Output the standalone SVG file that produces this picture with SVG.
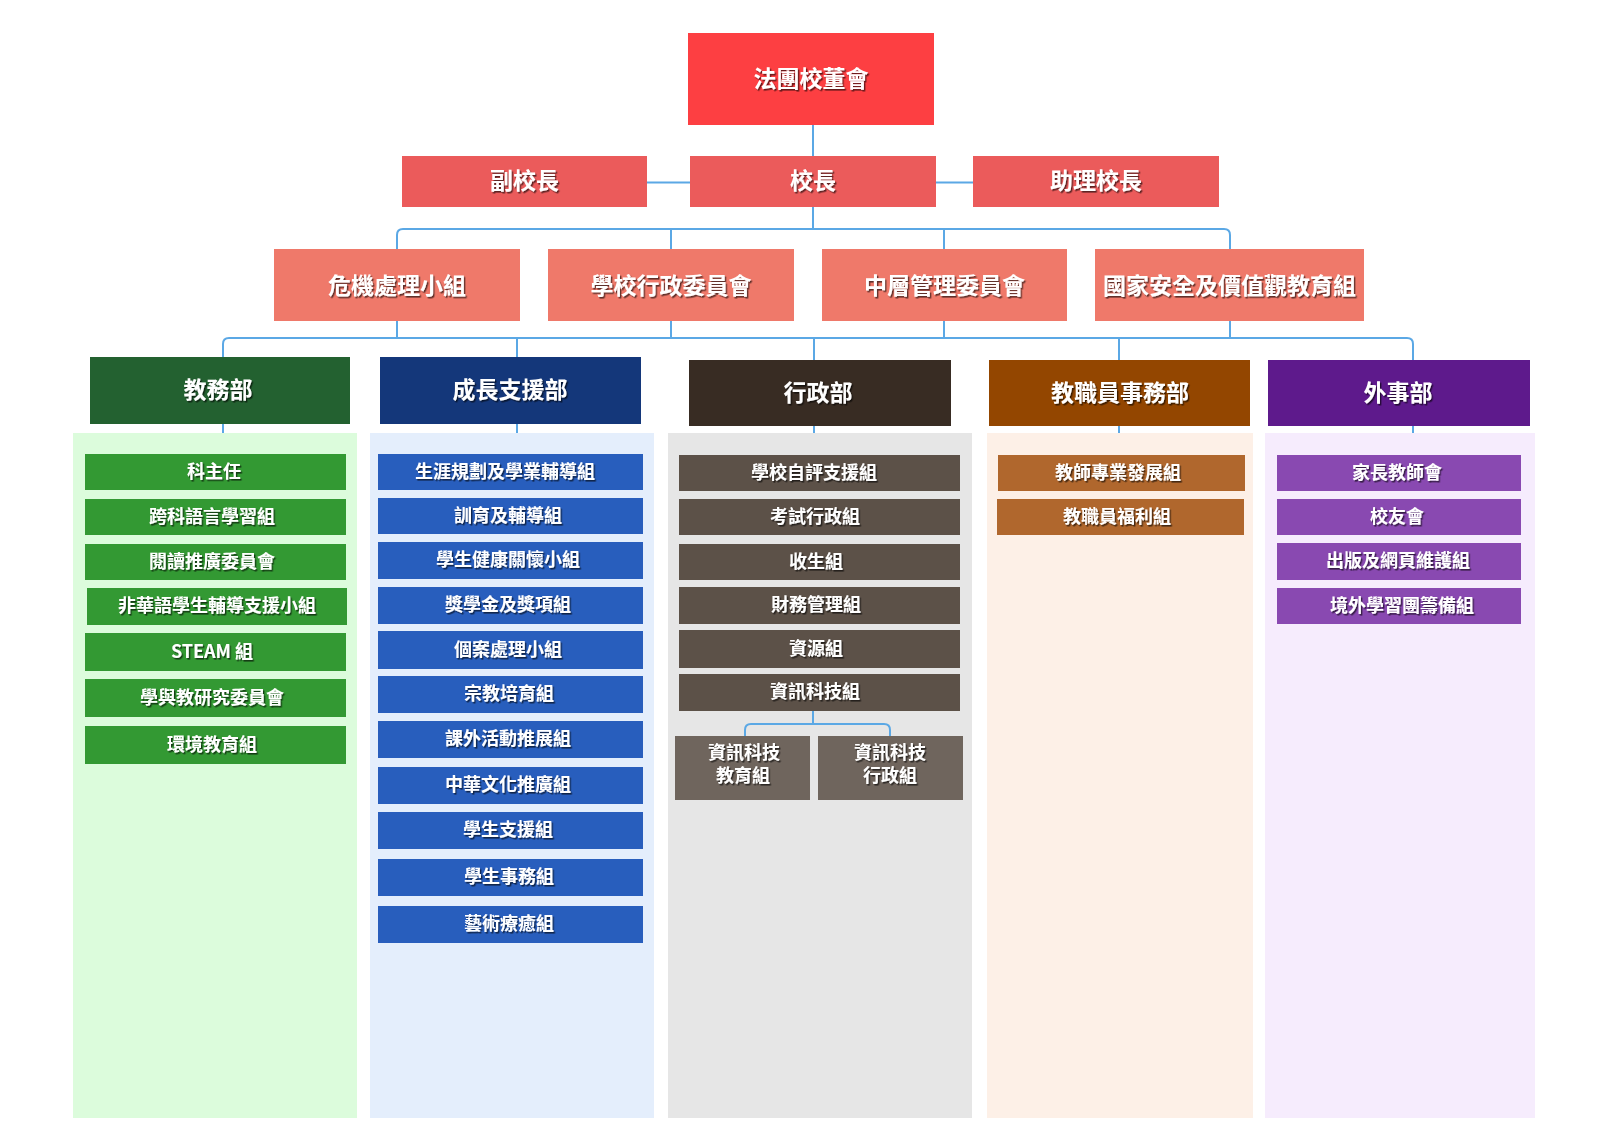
<svg xmlns="http://www.w3.org/2000/svg" width="1600" height="1134" viewBox="0 0 1600 1134">
<defs>
<filter id="sh" x="-10%" y="-30%" width="120%" height="160%">
<feDropShadow dx="1.4" dy="1.6" stdDeviation="0.4" flood-color="#000" flood-opacity="0.6"/>
</filter>
<style>
text{font-family:"Noto Sans CJK TC","Noto Sans CJK SC",sans-serif;font-weight:bold;fill:#fff;text-anchor:middle;filter:url(#sh)}
.big{font-size:23px}
.sm{font-size:18px}
.conn{fill:none;stroke:#5BA8E5;stroke-width:2}
.top{fill:#FD3F42}.l2{fill:#EB5B5B}.l3{fill:#EF796A}
.gh{fill:#236130}.gi{fill:#339933}.gp{fill:#DCFCDC}
.bh{fill:#14377A}.bi{fill:#285EBD}.bp{fill:#E4EEFC}
.kh{fill:#382C23}.ki{fill:#5C5148}.ks{fill:#6F655D}.kp{fill:#E6E6E6}
.oh{fill:#934600}.oi{fill:#B0672D}.op{fill:#FDF0E7}
.ph{fill:#5E1A8C}.pi{fill:#8949B1}.pp{fill:#F6ECFD}
</style>
</defs>
<rect width="1600" height="1134" fill="#fff"/>

<g id="panels">
<rect class="gp" x="73" y="433" width="284" height="685"/>
<rect class="bp" x="370" y="433" width="284" height="685"/>
<rect class="kp" x="668" y="433" width="304" height="685"/>
<rect class="op" x="987" y="433" width="266" height="685"/>
<rect class="pp" x="1265" y="433" width="270" height="685"/>
</g>

<g id="connectors">
<path class="conn" d="M813,125 V156"/>
<path class="conn" d="M647,182.5 H690 M936,182.5 H973"/>
<path class="conn" d="M813,207 V229"/>
<path class="conn" d="M397,249 V235 Q397,229 403,229 H1224 Q1230,229 1230,235 V249 M671,229 V249 M944,229 V249"/>
<path class="conn" d="M397,321 V338 M671,321 V338 M944,321 V338 M1230,321 V338"/>
<path class="conn" d="M223,357 V344 Q223,338 229,338 H1407 Q1413,338 1413,344 V360 M517,338 V357 M814,338 V360 M1119,338 V360"/>
<path class="conn" d="M223,424 V433 M517,424 V433 M814,426 V433 M1119,426 V433 M1413,426 V433"/>
<path class="conn" d="M813,711 V724 M745,736 V730 Q745,724 751,724 H884 Q890,724 890,730 V736"/>
</g>

<g id="board"><rect class="top" x="688" y="33" width="246" height="92"/><text class="big" x="811" y="87">法團校董會</text></g>

<g id="vice"><rect class="l2" x="402" y="156" width="245" height="51"/><text class="big" x="524.5" y="189">副校長</text></g>
<g id="principal"><rect class="l2" x="690" y="156" width="246" height="51"/><text class="big" x="813" y="189">校長</text></g>
<g id="asst"><rect class="l2" x="973" y="156" width="246" height="51"/><text class="big" x="1096" y="189">助理校長</text></g>

<g id="crisis"><rect class="l3" x="274" y="249" width="246" height="72"/><text class="big" x="397" y="294">危機處理小組</text></g>
<g id="admincomm"><rect class="l3" x="548" y="249" width="246" height="72"/><text class="big" x="671" y="294">學校行政委員會</text></g>
<g id="midmgmt"><rect class="l3" x="822" y="249" width="245" height="72"/><text class="big" x="944.5" y="294">中層管理委員會</text></g>
<g id="natsec"><rect class="l3" x="1095" y="249" width="269" height="72"/><text class="big" x="1229.5" y="294">國家安全及價值觀教育組</text></g>

<g id="dept-academic">
<rect class="gh" x="90" y="357" width="260" height="67"/><text class="big" x="218" y="398">教務部</text>
<rect class="gi" x="85" y="454" width="261" height="36"/><text class="sm" x="214" y="478">科主任</text>
<rect class="gi" x="85" y="499" width="261" height="36"/><text class="sm" x="212" y="523">跨科語言學習組</text>
<rect class="gi" x="85" y="544" width="261" height="36"/><text class="sm" x="212" y="568">閱讀推廣委員會</text>
<rect class="gi" x="87" y="588" width="260" height="37"/><text class="sm" x="217" y="612">非華語學生輔導支援小組</text>
<rect class="gi" x="85" y="633" width="261" height="38"/><text class="sm" x="212" y="658">STEAM 組</text>
<rect class="gi" x="85" y="679" width="261" height="38"/><text class="sm" x="212" y="704">學與教研究委員會</text>
<rect class="gi" x="85" y="726" width="261" height="38"/><text class="sm" x="212" y="751">環境教育組</text>
</g>

<g id="dept-growth">
<rect class="bh" x="380" y="357" width="261" height="67"/><text class="big" x="510" y="398">成長支援部</text>
<rect class="bi" x="378" y="454" width="265" height="36"/><text class="sm" x="505" y="478">生涯規劃及學業輔導組</text>
<rect class="bi" x="378" y="498" width="265" height="36"/><text class="sm" x="508" y="522">訓育及輔導組</text>
<rect class="bi" x="378" y="542" width="265" height="37"/><text class="sm" x="508" y="566">學生健康關懷小組</text>
<rect class="bi" x="378" y="587" width="265" height="37"/><text class="sm" x="508" y="611">獎學金及獎項組</text>
<rect class="bi" x="378" y="631" width="265" height="38"/><text class="sm" x="508" y="656">個案處理小組</text>
<rect class="bi" x="378" y="676" width="265" height="37"/><text class="sm" x="509" y="700">宗教培育組</text>
<rect class="bi" x="378" y="721" width="265" height="37"/><text class="sm" x="508" y="745">課外活動推展組</text>
<rect class="bi" x="378" y="767" width="265" height="37"/><text class="sm" x="508" y="791">中華文化推廣組</text>
<rect class="bi" x="378" y="812" width="265" height="37"/><text class="sm" x="508" y="836">學生支援組</text>
<rect class="bi" x="378" y="859" width="265" height="37"/><text class="sm" x="509" y="883">學生事務組</text>
<rect class="bi" x="378" y="906" width="265" height="37"/><text class="sm" x="509" y="930">藝術療癒組</text>
</g>

<g id="dept-admin">
<rect class="kh" x="689" y="360" width="262" height="66"/><text class="big" x="818" y="401">行政部</text>
<rect class="ki" x="679" y="455" width="281" height="36"/><text class="sm" x="814" y="479">學校自評支援組</text>
<rect class="ki" x="679" y="499" width="281" height="36"/><text class="sm" x="815" y="523">考試行政組</text>
<rect class="ki" x="679" y="544" width="281" height="36"/><text class="sm" x="816" y="568">收生組</text>
<rect class="ki" x="679" y="587" width="281" height="37"/><text class="sm" x="816" y="611">財務管理組</text>
<rect class="ki" x="679" y="630" width="281" height="38"/><text class="sm" x="816" y="655">資源組</text>
<rect class="ki" x="679" y="674" width="281" height="37"/><text class="sm" x="815" y="698">資訊科技組</text>
<rect class="ks" x="675" y="736" width="135" height="64"/><text class="sm" x="744" y="759">資訊科技</text><text class="sm" x="743" y="782">教育組</text>
<rect class="ks" x="818" y="736" width="145" height="64"/><text class="sm" x="890" y="759">資訊科技</text><text class="sm" x="890" y="782">行政組</text>
</g>

<g id="dept-staff">
<rect class="oh" x="989" y="360" width="261" height="66"/><text class="big" x="1120" y="401">教職員事務部</text>
<rect class="oi" x="998" y="455" width="247" height="36"/><text class="sm" x="1118" y="479">教師專業發展組</text>
<rect class="oi" x="997" y="499" width="247" height="36"/><text class="sm" x="1117" y="523">教職員福利組</text>
</g>

<g id="dept-external">
<rect class="ph" x="1268" y="360" width="262" height="66"/><text class="big" x="1398" y="401">外事部</text>
<rect class="pi" x="1277" y="455" width="244" height="36"/><text class="sm" x="1397" y="479">家長教師會</text>
<rect class="pi" x="1277" y="499" width="244" height="36"/><text class="sm" x="1397" y="523">校友會</text>
<rect class="pi" x="1277" y="543" width="244" height="37"/><text class="sm" x="1398" y="567">出版及網頁維護組</text>
<rect class="pi" x="1277" y="588" width="244" height="36"/><text class="sm" x="1402" y="612">境外學習團籌備組</text>
</g>
</svg>
